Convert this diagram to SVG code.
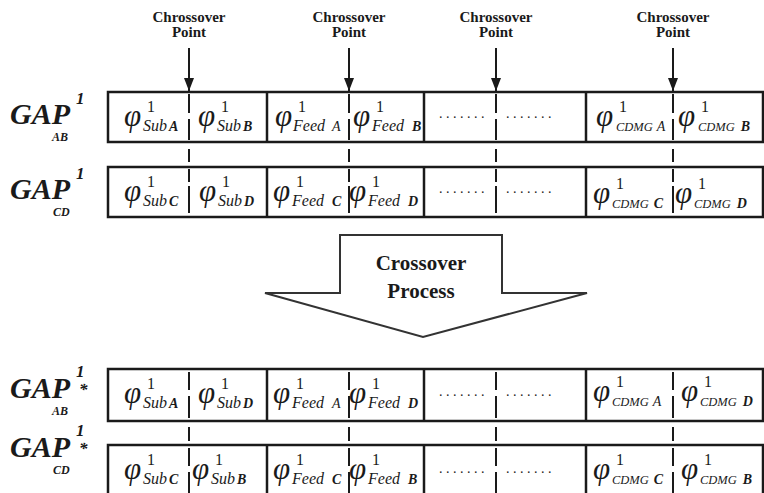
<svg xmlns="http://www.w3.org/2000/svg" width="764" height="493" viewBox="0 0 764 493">
  <defs>
    <style>
      .box{fill:none;stroke:#1a1a1a;stroke-width:2.5}
      .div{stroke:#1a1a1a;stroke-width:2.5}
      .cut{stroke:#1a1a1a;stroke-width:2}
      .t{font-family:"Liberation Serif","Times New Roman",serif;fill:#1a1a1a}
      .lbl{font-size:15px;font-weight:bold;text-anchor:middle}
      .gap{font-size:30px;font-style:italic;font-weight:bold}
      .gsup{font-size:17px;font-style:italic;font-weight:bold}
      .gsub{font-size:12px;font-style:italic;font-weight:bold}
      .phi{font-size:31px;font-style:italic}
      .one{font-size:16px}
      .sub{font-size:16px;font-style:italic}
      .cdmg{font-size:12.5px;font-style:italic}
      .key{font-size:14px;font-style:italic;font-weight:bold}
      .ka{font-size:14px;font-style:italic}
      .dots{font-size:14px;letter-spacing:3.5px}
      .big{font-size:21px;font-weight:bold;text-anchor:middle}
      .arrow{fill:#fff;stroke:#333;stroke-width:2}
    </style>
    <marker id="head" viewBox="0 0 13 10" refX="13" refY="5" markerWidth="13" markerHeight="10" markerUnits="userSpaceOnUse" orient="auto">
      <path d="M0,0 L13,5 L0,10 Z" fill="#1a1a1a"/>
    </marker>
  </defs>
  <rect width="764" height="493" fill="#fff"/>

  <!-- crossover point labels -->
  <g id="cross-points" class="t">
    <text class="lbl" x="189" y="22">Chrossover</text><text class="lbl" x="189" y="37">Point</text>
    <text class="lbl" x="349" y="22">Chrossover</text><text class="lbl" x="349" y="37">Point</text>
    <text class="lbl" x="496" y="22">Chrossover</text><text class="lbl" x="496" y="37">Point</text>
    <text class="lbl" x="673" y="22">Chrossover</text><text class="lbl" x="673" y="37">Point</text>
  </g>
  <!-- arrows down to the cut positions -->
  <g id="connectors">
    <line x1="189" y1="48" x2="189" y2="91" class="cut" marker-end="url(#head)"/>
    <line x1="349" y1="48" x2="349" y2="91" class="cut" marker-end="url(#head)"/>
    <line x1="496" y1="48" x2="496" y2="91" class="cut" marker-end="url(#head)"/>
    <line x1="673" y1="48" x2="673" y2="91" class="cut" marker-end="url(#head)"/>
  </g>

  <!-- row labels -->
  <g id="label-ab" class="t">
    <text class="gap" x="10" y="124">GAP</text>
    <text class="gsup" x="76" y="104">1</text>
    <text class="gsub" x="52" y="141">AB</text>
  </g>
  <g id="label-cd" class="t">
    <text class="gap" x="10" y="199">GAP</text>
    <text class="gsup" x="76" y="179">1</text>
    <text class="gsub" x="53" y="216">CD</text>
  </g>
  <g id="label-ab-star" class="t">
    <text class="gap" x="10" y="398">GAP</text>
    <text class="gsup" x="76" y="377">1</text>
    <text class="gsup" x="79" y="395">*</text>
    <text class="gsub" x="52" y="415">AB</text>
  </g>
  <g id="label-cd-star" class="t">
    <text class="gap" x="10" y="457">GAP</text>
    <text class="gsup" x="76" y="436">1</text>
    <text class="gsup" x="79" y="454">*</text>
    <text class="gsub" x="53" y="474">CD</text>
  </g>

  <!-- chromosome AB -->
  <g id="row-ab">
    <rect class="box" x="108" y="92" width="655" height="50"/>
    <line class="div" x1="267" y1="92" x2="267" y2="142"/>
    <line class="div" x1="424" y1="92" x2="424" y2="142"/>
    <line class="div" x1="586" y1="92" x2="586" y2="142"/>
    <g class="cut">
      <line x1="189" y1="94" x2="189" y2="113"/><line x1="189" y1="119" x2="189" y2="140"/>
      <line x1="349" y1="94" x2="349" y2="113"/><line x1="349" y1="119" x2="349" y2="140"/>
      <line x1="496" y1="94" x2="496" y2="113"/><line x1="496" y1="119" x2="496" y2="140"/>
      <line x1="673" y1="94" x2="673" y2="113"/><line x1="673" y1="119" x2="673" y2="140"/>
    </g>
    <g class="t">
      <text class="phi" x="124" y="126">φ</text><text class="one" x="147" y="112">1</text><text x="143" y="131"><tspan class="sub">Sub</tspan><tspan class="key" dx="2">A</tspan></text>
      <text class="phi" x="198" y="126">φ</text><text class="one" x="221" y="112">1</text><text x="217" y="131"><tspan class="sub">Sub</tspan><tspan class="key" dx="2">B</tspan></text>
      <text class="phi" x="275" y="126">φ</text><text class="one" x="298" y="112">1</text><text x="293" y="131"><tspan class="sub">Feed</tspan><tspan class="ka" dx="7">A</tspan></text>
      <text class="phi" x="353" y="126">φ</text><text class="one" x="376" y="112">1</text><text x="372" y="131"><tspan class="sub">Feed</tspan><tspan class="key" dx="8">B</tspan></text>
      <text class="dots" x="439" y="118">.......</text><text class="dots" x="506" y="118">.......</text>
      <text class="phi" x="596" y="126">φ</text><text class="one" x="619" y="112">1</text><text x="616" y="131"><tspan class="cdmg">CDMG</tspan><tspan class="ka" font-size="13" dx="4">A</tspan></text>
      <text class="phi" x="678" y="126">φ</text><text class="one" x="701" y="112">1</text><text x="698" y="131"><tspan class="cdmg">CDMG</tspan><tspan class="key" font-size="12" dx="6">B</tspan></text>
    </g>
  </g>
  <g id="link-1" class="cut">
    <line x1="189" y1="149" x2="189" y2="162"/><line x1="349" y1="149" x2="349" y2="162"/>
    <line x1="496" y1="149" x2="496" y2="162"/><line x1="673" y1="149" x2="673" y2="162"/>
  </g>

  <!-- chromosome CD -->
  <g id="row-cd">
    <rect class="box" x="108" y="167" width="655" height="50"/>
    <line class="div" x1="267" y1="167" x2="267" y2="217"/>
    <line class="div" x1="424" y1="167" x2="424" y2="217"/>
    <line class="div" x1="586" y1="167" x2="586" y2="217"/>
    <g class="cut">
      <line x1="189" y1="169" x2="189" y2="182"/><line x1="189" y1="186" x2="189" y2="213"/>
      <line x1="349" y1="169" x2="349" y2="182"/><line x1="349" y1="186" x2="349" y2="213"/>
      <line x1="496" y1="169" x2="496" y2="182"/><line x1="496" y1="186" x2="496" y2="213"/>
      <line x1="673" y1="169" x2="673" y2="182"/><line x1="673" y1="186" x2="673" y2="213"/>
    </g>
    <g class="t">
      <text class="phi" x="124" y="201">φ</text><text class="one" x="147" y="187">1</text><text x="143" y="206"><tspan class="sub">Sub</tspan><tspan class="key" dx="2">C</tspan></text>
      <text class="phi" x="199" y="201">φ</text><text class="one" x="222" y="187">1</text><text x="218" y="206"><tspan class="sub">Sub</tspan><tspan class="key" dx="2">D</tspan></text>
      <text class="phi" x="273" y="201">φ</text><text class="one" x="296" y="187">1</text><text x="292" y="206"><tspan class="sub">Feed</tspan><tspan class="key" dx="8">C</tspan></text>
      <text class="phi" x="349" y="201">φ</text><text class="one" x="372" y="187">1</text><text x="368" y="206"><tspan class="sub">Feed</tspan><tspan class="key" dx="8">D</tspan></text>
      <text class="dots" x="439" y="193">.......</text><text class="dots" x="506" y="193">.......</text>
      <text class="phi" x="593" y="203">φ</text><text class="one" x="616" y="189">1</text><text x="612" y="208"><tspan class="cdmg">CDMG</tspan><tspan class="key" font-size="12" dx="5">C</tspan></text>
      <text class="phi" x="675" y="203">φ</text><text class="one" x="698" y="189">1</text><text x="694" y="208"><tspan class="cdmg">CDMG</tspan><tspan class="key" font-size="12" dx="6">D</tspan></text>
    </g>
  </g>

  <!-- crossover process arrow -->
  <g id="process">
    <polygon class="arrow" points="340,235 502,235 502,293 587,293 423,337 265,293 340,293"/>
    <text class="t big" x="421" y="270">Crossover</text>
    <text class="t big" x="421" y="298">Process</text>
  </g>

  <!-- offspring AB -->
  <g id="row-ab-star">
    <rect class="box" x="108" y="369" width="655" height="52"/>
    <line class="div" x1="267" y1="369" x2="267" y2="421"/>
    <line class="div" x1="424" y1="369" x2="424" y2="421"/>
    <line class="div" x1="586" y1="369" x2="586" y2="421"/>
    <g class="cut">
      <line x1="189" y1="372" x2="189" y2="390"/><line x1="189" y1="396" x2="189" y2="418"/>
      <line x1="349" y1="372" x2="349" y2="390"/><line x1="349" y1="396" x2="349" y2="418"/>
      <line x1="496" y1="372" x2="496" y2="390"/><line x1="496" y1="396" x2="496" y2="418"/>
      <line x1="673" y1="372" x2="673" y2="390"/><line x1="673" y1="396" x2="673" y2="418"/>
    </g>
    <g class="t">
      <text class="phi" x="124" y="403">φ</text><text class="one" x="147" y="389">1</text><text x="143" y="408"><tspan class="sub">Sub</tspan><tspan class="key" dx="2">A</tspan></text>
      <text class="phi" x="198" y="403">φ</text><text class="one" x="221" y="389">1</text><text x="217" y="408"><tspan class="sub">Sub</tspan><tspan class="key" dx="2">D</tspan></text>
      <text class="phi" x="273" y="403">φ</text><text class="one" x="296" y="389">1</text><text x="292" y="408"><tspan class="sub">Feed</tspan><tspan class="ka" dx="8">A</tspan></text>
      <text class="phi" x="349" y="403">φ</text><text class="one" x="372" y="389">1</text><text x="368" y="408"><tspan class="sub">Feed</tspan><tspan class="key" dx="8">D</tspan></text>
      <text class="dots" x="439" y="396">.......</text><text class="dots" x="506" y="396">.......</text>
      <text class="phi" x="593" y="401">φ</text><text class="one" x="616" y="387">1</text><text x="612" y="406"><tspan class="cdmg">CDMG</tspan><tspan class="ka" font-size="13" dx="4">A</tspan></text>
      <text class="phi" x="681" y="401">φ</text><text class="one" x="704" y="387">1</text><text x="700" y="406"><tspan class="cdmg">CDMG</tspan><tspan class="key" font-size="12" dx="6">D</tspan></text>
    </g>
  </g>
  <g id="link-2" class="cut">
    <line x1="189" y1="427" x2="189" y2="441"/><line x1="349" y1="427" x2="349" y2="441"/>
    <line x1="496" y1="427" x2="496" y2="441"/><line x1="673" y1="427" x2="673" y2="441"/>
  </g>

  <!-- offspring CD -->
  <g id="row-cd-star">
    <rect class="box" x="108" y="445" width="655" height="52"/>
    <line class="div" x1="267" y1="445" x2="267" y2="497"/>
    <line class="div" x1="424" y1="445" x2="424" y2="497"/>
    <line class="div" x1="586" y1="445" x2="586" y2="497"/>
    <g class="cut">
      <line x1="189" y1="448" x2="189" y2="466"/><line x1="189" y1="472" x2="189" y2="493"/>
      <line x1="349" y1="448" x2="349" y2="466"/><line x1="349" y1="472" x2="349" y2="493"/>
      <line x1="496" y1="448" x2="496" y2="466"/><line x1="496" y1="472" x2="496" y2="493"/>
      <line x1="673" y1="448" x2="673" y2="466"/><line x1="673" y1="472" x2="673" y2="493"/>
    </g>
    <g class="t">
      <text class="phi" x="124" y="479">φ</text><text class="one" x="147" y="465">1</text><text x="143" y="484"><tspan class="sub">Sub</tspan><tspan class="key" dx="2">C</tspan></text>
      <text class="phi" x="192" y="479">φ</text><text class="one" x="215" y="465">1</text><text x="211" y="484"><tspan class="sub">Sub</tspan><tspan class="key" dx="2">B</tspan></text>
      <text class="phi" x="273" y="479">φ</text><text class="one" x="296" y="465">1</text><text x="292" y="484"><tspan class="sub">Feed</tspan><tspan class="key" dx="8">C</tspan></text>
      <text class="phi" x="349" y="479">φ</text><text class="one" x="372" y="465">1</text><text x="368" y="484"><tspan class="sub">Feed</tspan><tspan class="key" dx="8">B</tspan></text>
      <text class="dots" x="439" y="473">.......</text><text class="dots" x="506" y="473">.......</text>
      <text class="phi" x="593" y="479">φ</text><text class="one" x="616" y="465">1</text><text x="612" y="484"><tspan class="cdmg">CDMG</tspan><tspan class="key" font-size="12" dx="5">C</tspan></text>
      <text class="phi" x="681" y="479">φ</text><text class="one" x="704" y="465">1</text><text x="700" y="484"><tspan class="cdmg">CDMG</tspan><tspan class="key" font-size="12" dx="6">B</tspan></text>
    </g>
  </g>
</svg>
